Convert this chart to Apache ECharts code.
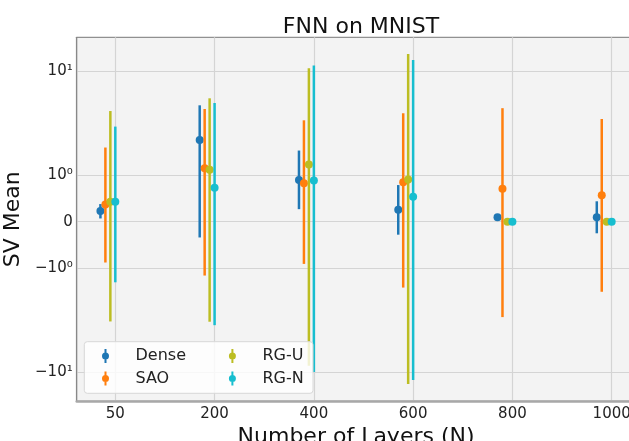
<!DOCTYPE html>
<html>
<head>
<meta charset="utf-8">
<script src="https://cdn.jsdelivr.net/npm/echarts@6/dist/echarts.min.js"></script>
<style>
  html, body { margin: 0; padding: 0; background: #fff; overflow: hidden; }
  /* 右边框在原图之外，画布比窗口略宽 */
  #chart { width: 636px; height: 441px; }
</style>
</head>
<body>
<div id="chart"></div>
<script>
// 横轴类别（层数）
const layers = ['50', '200', '400', '600', '800', '1000']
const methods = ['Dense', 'SAO', 'RG-U', 'RG-N']
const colors = ['#1f77b4', '#ff7f0e', '#bcbd22', '#17becf']
// 每种方法在类别内的横向偏移
const offsets = [-0.15, -0.1, -0.05, 0]

// 均值与误差棒上下端（原始数值）
const denseMean = [0.23, 2.19, 0.90, 0.26, 0.094, 0.094]
const denseLow = [0.07, -0.34, 0.27, -0.28, 0.094, -0.25]
const denseHigh = [0.38, 4.71, 1.73, 0.79, 0.094, 0.44]

const saoMean = [0.37, 1.17, 0.83, 0.85, 0.71, 0.57]
const saoLow = [-0.88, -1.18, -0.91, -1.54, -2.96, -1.69]
const saoHigh = [1.85, 4.34, 3.38, 3.95, 4.42, 3.48]

const rguMean = [0.43, 1.13, 1.27, 0.91, 0, 0]
const rguLow = [-3.26, -3.28, -8.7, -13.0, 0, 0]
const rguHigh = [4.15, 5.5, 10.7, 14.7, 0, 0]

const rgnMean = [0.43, 0.73, 0.89, 0.54, 0, 0]
const rgnLow = [-1.37, -3.54, -10.0, -11.9, 0, 0]
const rgnHigh = [2.94, 4.96, 11.4, 12.85, 0, 0]

// 纵轴刻度
const yTickValues = [10, 1, 0, -1, -10]
const yTickLabels = ['10¹', '10⁰', '0', '−10⁰', '−10¹']

// symlog 变换（线性区 |v|<=1）
const LIN = 0.446
function symlog (v) {
  const a = Math.abs(v)
  if (a <= 1) return v * LIN
  return Math.sign(v) * (LIN + Math.log10(a))
}

const allMean = [denseMean, saoMean, rguMean, rgnMean]
const allLow = [denseLow, saoLow, rguLow, rgnLow]
const allHigh = [denseHigh, saoHigh, rguHigh, rgnHigh]

const legendIcon = 'path://M4,0H6V14H4Z M8.5,7A3.5,3.5 0 1 1 1.5,7A3.5,3.5 0 1 1 8.5,7Z'

function renderBar (params, api) {
  const x = api.value(0)
  const lo = api.coord([x, api.value(1)])
  const hi = api.coord([x, api.value(2)])
  const mid = api.coord([x, api.value(3)])
  const color = api.visual('color')
  return {
    type: 'group',
    children: [
      { type: 'line', shape: { x1: hi[0], y1: hi[1], x2: lo[0], y2: lo[1] }, style: { stroke: color, lineWidth: 2.5 } },
      { type: 'circle', shape: { cx: mid[0], cy: mid[1], r: 4 }, style: { fill: color } }
    ]
  }
}

const series = methods.map(function (name, m) {
  return {
    name: name,
    type: 'custom',
    renderItem: renderBar,
    encode: { x: 0, y: [1, 2, 3] },
    data: layers.map(function (l, i) {
      return [i + offsets[m], symlog(allLow[m][i]), symlog(allHigh[m][i]), symlog(allMean[m][i])]
    })
  }
})

const tickPos = yTickValues.map(symlog)

const myChart = echarts.init(document.getElementById('chart'))
const option = {
  color: colors,
  animation: false,
  textStyle: { fontFamily: 'DejaVu Sans' },
  title: {
    text: 'FNN on MNIST',
    left: 356,
    textAlign: 'center',
    top: 11,
    textStyle: { fontSize: 22, fontWeight: 'normal', color: '#111', fontFamily: 'DejaVu Sans' }
  },
  grid: {
    left: 76.7,
    right: 0.6,
    top: 37.3,
    bottom: 39.7,
    outerBoundsMode: 'none',
    containLabel: false,
    show: true,
    backgroundColor: '#f3f3f3',
    borderColor: '#777',
    borderWidth: 1
  },
  xAxis: {
    type: 'value',
    min: -0.389,
    max: 5.239,
    name: 'Number of Layers (N)',
    nameLocation: 'middle',
    nameGap: 19,
    nameTextStyle: { fontSize: 22, color: '#111' },
    axisLine: { show: true, onZero: false, lineStyle: { color: '#a8a8a8', width: 2.5 } },
    axisTick: { show: false, customValues: [0, 1, 2, 3, 4, 5] },
    axisLabel: {
      customValues: [0, 1, 2, 3, 4, 5],
      fontSize: 15,
      color: '#222',
      margin: 5,
      formatter: function (v) { return layers[Math.round(v)] }
    },
    splitLine: { show: true, lineStyle: { color: '#d4d4d4', width: 1.2 } }
  },
  yAxis: {
    type: 'value',
    min: -1.727,
    max: 1.773,
    name: 'SV Mean',
    nameLocation: 'middle',
    nameGap: 45,
    nameTextStyle: { fontSize: 22, color: '#111' },
    axisLine: { show: true, onZero: false, lineStyle: { color: '#888', width: 1.2 } },
    axisTick: { show: false, customValues: tickPos },
    axisLabel: {
      customValues: tickPos,
      fontSize: 15,
      color: '#222',
      margin: 4,
      formatter: function (v) {
        let best = 0
        tickPos.forEach(function (p, i) { if (Math.abs(p - v) < Math.abs(tickPos[best] - v)) best = i })
        return yTickLabels[best]
      }
    },
    splitLine: { show: true, lineStyle: { color: '#d4d4d4', width: 1.2 } }
  },
  graphic: [{
    type: 'rect',
    z: 30,
    shape: { x: 84.3, y: 341.7, width: 228.7, height: 51.6, r: 3 },
    style: { fill: 'rgba(255,255,255,0.8)', stroke: '#d8d8d8', lineWidth: 1 }
  }],
  legend: {
    z: 40,
    left: 102,
    top: 348,
    width: 250,
    padding: 0,
    itemWidth: 50,
    itemHeight: 14,
    itemGap: 6.4,
    selectedMode: false,
    textStyle: { fontSize: 16, color: '#222', width: 87, lineHeight: 14 },
    data: [
      { name: 'Dense', icon: legendIcon },
      { name: 'RG-U', icon: legendIcon },
      { name: 'SAO', icon: legendIcon },
      { name: 'RG-N', icon: legendIcon }
    ]
  },
  series: series
}
myChart.setOption(option)
</script>
</body>
</html>
